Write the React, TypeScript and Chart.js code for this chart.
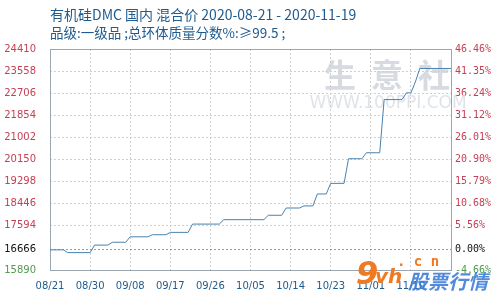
import { useEffect, useRef } from "react";
import { Chart, registerables } from "chart.js";

Chart.register(...registerables);

// Day offsets from 2020-08-21 (0) to 2020-11-19 (90), and the price on that day
const dayOffsets = [0, 3, 4, 9, 10, 13, 14, 17, 18, 22, 23, 26, 27, 31, 32, 38, 39, 48, 49, 52, 53, 56, 57, 59, 60, 62, 63, 66, 67, 70, 71, 74, 75, 79, 80, 81, 82, 83, 90];
const prices = [16666, 16666, 16560, 16560, 16850, 16850, 16960, 16960, 17170, 17170, 17250, 17250, 17340, 17340, 17660, 17660, 17830, 17830, 18000, 18000, 18280, 18280, 18360, 18360, 18820, 18820, 19230, 19230, 20180, 20180, 20410, 20410, 22460, 22460, 22720, 22720, 23140, 23660, 23660];

const xTickDays = [0, 9, 18, 27, 36, 45, 54, 63, 72, 81, 90];
const xTickLabels = ["08/21", "08/30", "09/08", "09/17", "09/26", "10/05", "10/14", "10/23", "11/01", "11/10", ""];

const yTickValues = [15890, 16666, 17594, 18446, 19298, 20150, 21002, 21854, 22706, 23558, 24410];
const yTickLabels = ["15890", "16666", "17594", "18446", "19298", "20150", "21002", "21854", "22706", "23558", "24410"];
const pctTickLabels = ["-4.66%", "0.00%", "5.56%", "10.68%", "15.79%", "20.90%", "26.01%", "31.12%", "36.24%", "41.35%", "46.46%"];

const titleLine1 = "有机硅DMC 国内 混合价 2020-08-21 - 2020-11-19";
const titleLine2 = "品级:一级品 ;总环体质量分数%:≥99.5 ;";

const tickColor = (i: number) => (i === 0 ? "#4f9a4f" : i === 1 ? "#111111" : "#c63f54");

export default function App() {
  const ref = useRef<HTMLCanvasElement | null>(null);

  useEffect(() => {
    document.body.style.margin = "0";
    const canvas = ref.current;
    if (!canvas) return;

    const decor = {
      id: "decor",
      beforeDatasetsDraw(chart: any) {
        const { ctx, chartArea } = chart;
        ctx.save();
        // watermark
        ctx.fillStyle = "rgba(205,210,218,0.8)";
        ctx.font = "bold 32px 'Noto Sans CJK SC'";
        ctx.textBaseline = "middle";
        ctx.textAlign = "center";
        ctx.fillText("生", 340, 75);
        ctx.fillText("意", 387, 75);
        ctx.fillText("社", 434, 75);
        ctx.font = "17px 'DejaVu Sans'";
        ctx.fillStyle = "rgba(215,220,226,0.8)";
        ctx.fillText("WWW.100PPI.COM", 388, 104);
        ctx.restore();
        // box
        ctx.save();
        ctx.strokeStyle = "#9aa6b2";
        ctx.lineWidth = 1;
        ctx.strokeRect(
          Math.round(chartArea.left) + 0.5,
          Math.round(chartArea.top) + 0.5,
          Math.round(chartArea.right - chartArea.left),
          Math.round(chartArea.bottom - chartArea.top)
        );
        ctx.restore();
      },
      afterDraw(chart: any) {
        const { ctx, chartArea } = chart;
        ctx.save();
        ctx.textBaseline = "middle";
        ctx.textAlign = "left";
        ctx.fillStyle = "#1f5b8e";
        ctx.font = "14px 'Noto Sans CJK SC'";
        ctx.fillText(titleLine1, chartArea.left, 15);
        ctx.font = "13.5px 'Noto Sans CJK SC'";
        ctx.fillText(titleLine2, chartArea.left, 33);
        // 9vh logo
        ctx.textBaseline = "alphabetic";
        ctx.fillStyle = "#f07a22";
        ctx.font = "italic bold 32px 'DejaVu Sans'";
        ctx.fillText("9", 356, 284);
        ctx.font = "italic bold 20px 'DejaVu Sans'";
        ctx.fillText("vh", 375, 283);
        ctx.font = "bold 14px 'DejaVu Sans Mono'";
        ctx.fillText(". c n", 397, 266);
        ctx.fillStyle = "rgba(62,126,214,0.9)";
        ctx.font = "italic bold 20px 'Noto Sans CJK SC'";
        ctx.fillText("股票行情", 408, 289);
        ctx.restore();
      },
    };

    const chart = new Chart(canvas, {
      type: "line",
      data: {
        datasets: [
          {
            data: dayOffsets.map((d, i) => ({ x: d, y: prices[i] })),
            borderColor: "#4a82ae",
            borderWidth: 1,
            pointRadius: 0,
            tension: 0,
            fill: false,
          },
        ],
      },
      options: {
        animation: false,
        responsive: false,
        events: [],
        layout: { padding: { top: 49, left: 0, right: 0, bottom: 0 } },
        plugins: { legend: { display: false }, tooltip: { enabled: false }, title: { display: false } },
        scales: {
          x: {
            type: "linear",
            min: 0,
            max: 90,
            afterBuildTicks: (s: any) => {
              s.ticks = xTickDays.map((v) => ({ value: v }));
            },
            afterFit: (s: any) => {
              s.height = 30;
            },
            ticks: {
              autoSkip: false,
              maxRotation: 0,
              padding: 10,
              color: "#1f5b8e",
              font: { family: "'DejaVu Sans'", size: 10 },
              callback: (_v: any, i: number) => xTickLabels[i],
            },
            grid: { color: "#cfcfcf", drawTicks: false },
            border: { display: false, dash: [2, 2] },
          },
          y: {
            type: "linear",
            position: "left",
            min: 15890,
            max: 24410,
            afterBuildTicks: (s: any) => {
              s.ticks = yTickValues.map((v) => ({ value: v }));
            },
            afterFit: (s: any) => {
              s.width = 50;
            },
            ticks: {
              padding: 14,
              color: (c: any) => tickColor(c.index),
              font: { family: "'DejaVu Sans'", size: 10 },
              callback: (_v: any, i: number) => yTickLabels[i],
            },
            grid: {
              color: (c: any) => (c.index === 1 ? "#9a9a9a" : "#cfcfcf"),
              drawTicks: false,
            },
            border: { display: false, dash: [2, 2] },
          },
          y2: {
            type: "linear",
            position: "right",
            min: 15890,
            max: 24410,
            afterBuildTicks: (s: any) => {
              s.ticks = yTickValues.map((v) => ({ value: v }));
            },
            afterFit: (s: any) => {
              s.width = 49;
            },
            ticks: {
              padding: 4,
              color: (c: any) => tickColor(c.index),
              font: { family: "'DejaVu Sans Mono'", size: 10 },
              callback: (_v: any, i: number) => pctTickLabels[i],
            },
            grid: { drawOnChartArea: false, drawTicks: false },
            border: { display: false },
          },
        },
      },
      plugins: [decor],
    } as any);

    return () => chart.destroy();
  }, []);

  return (
    <div style={{ position: "absolute", left: 0, top: 0, width: 500, height: 300, background: "#fff" }}>
      <canvas ref={ref} width={500} height={300} style={{ width: 500, height: 300 }} />
    </div>
  );
}
